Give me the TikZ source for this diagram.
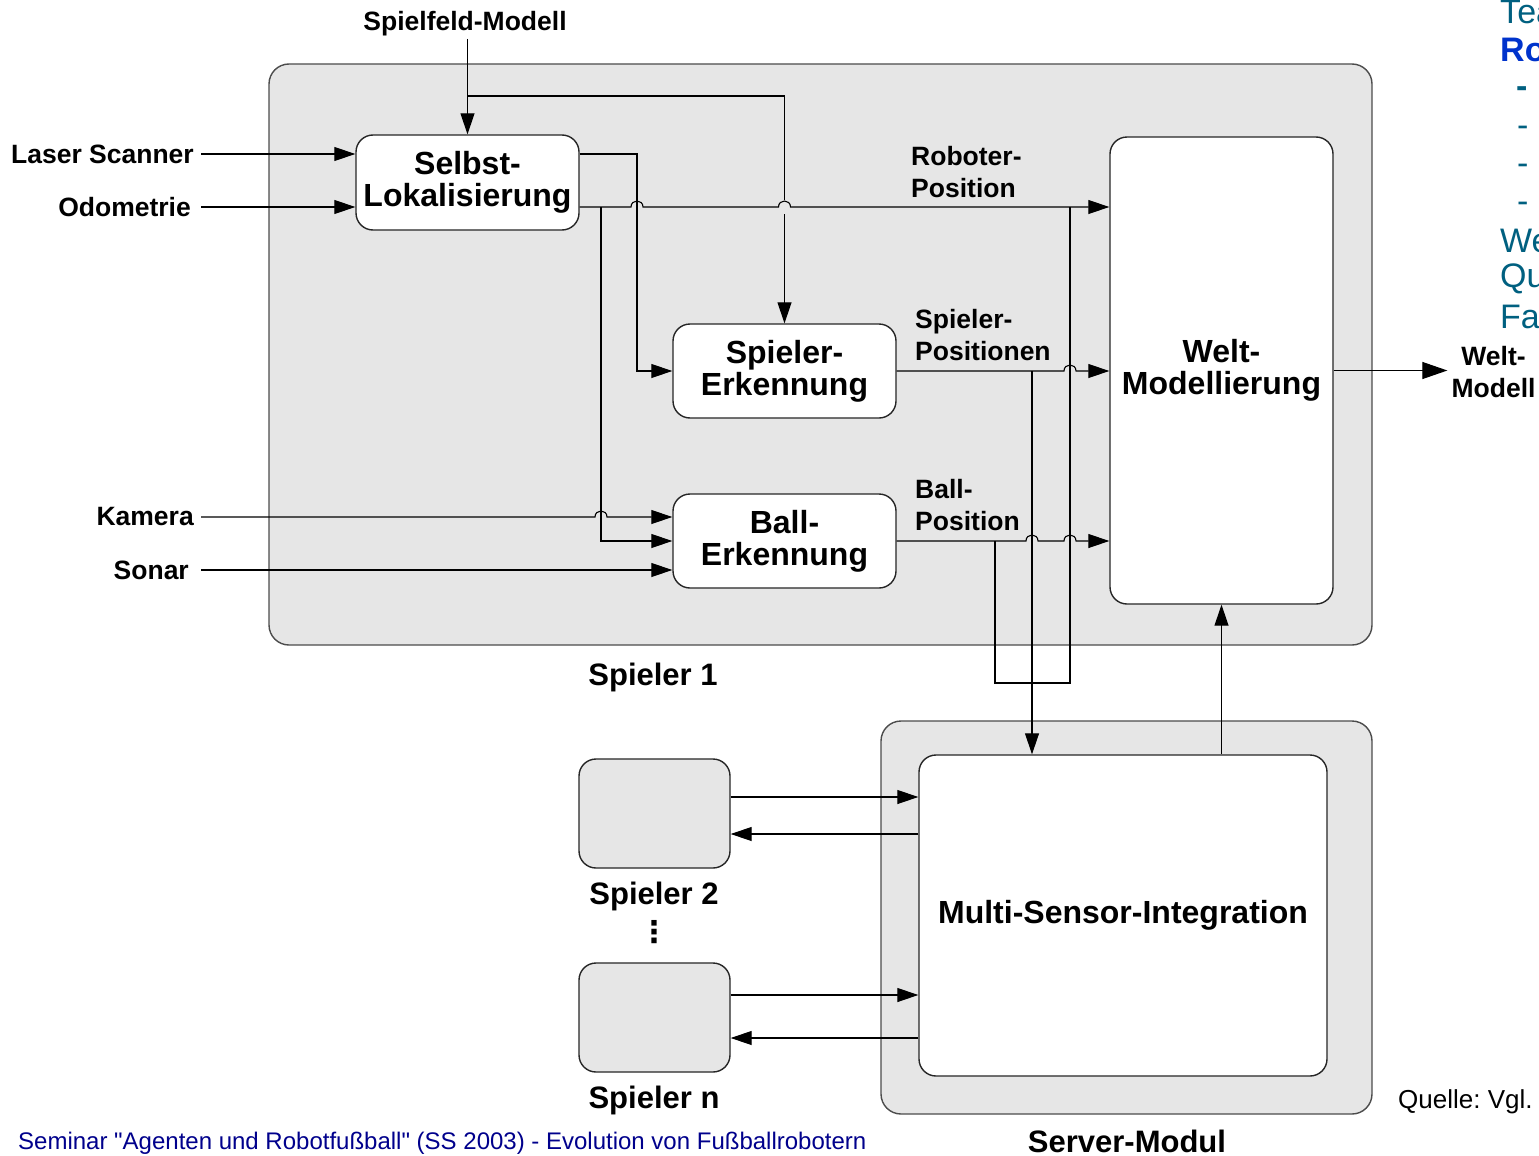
\documentclass[tikz,border=0pt]{standalone}
\usepackage{fontspec}
\setmainfont{Liberation Sans}
\newfontfamily\dejavu{DejaVu Sans}
\usetikzlibrary{arrows.meta,calc}
\definecolor{grp}{RGB}{230,230,230}
\definecolor{teal}{RGB}{0,96,128}
\definecolor{rblue}{RGB}{0,51,204}
\definecolor{navy}{RGB}{0,0,140}
\frenchspacing
\begin{document}
\begin{tikzpicture}[x=1pt,y=-1pt,
  grpbox/.style={draw=black!70, line width=1.4pt, fill=grp, rounded corners=20pt},
  box/.style={draw=black!85, line width=1.4pt, fill=white, rounded corners=17pt, inner sep=0pt, align=center, font=\bfseries\fontsize{32}{32}\selectfont},
  gbox/.style={draw=black!85, line width=1.4pt, fill=grp, rounded corners=17pt, inner sep=0pt},
  lbl/.style={font=\bfseries\fontsize{26.5}{32}\selectfont, inner sep=3pt},
  big/.style={font=\bfseries\fontsize{31}{32}\selectfont, inner sep=0pt},
  side/.style={font=\fontsize{34}{38}\selectfont, text=teal, inner sep=0pt, anchor=west},
  conn/.style={line width=1.1pt, draw=black},
  arr/.style={conn, -{Triangle[length=21pt,width=14pt]}},
  bigarr/.style={conn, -{Triangle[length=25pt,width=17pt]}}
]
\useasboundingbox (0,0) rectangle (1539,1156);
\fill[white] (0,0) rectangle (1539,1156);

% group boxes
\node[grpbox, minimum width=1103pt, minimum height=581pt, inner sep=0pt] (g1) at (820.5,354.5) {};
\node[grpbox, minimum width=491pt, minimum height=393pt, inner sep=0pt] (srv) at (1126.5,917.5) {};

% main boxes
\node[box, minimum width=223pt, minimum height=95pt] (sl) at (467.5,182.5) {Selbst-\\Lokalisierung};
\node[box, minimum width=223pt, minimum height=94pt] (se) at (784.5,371) {Spieler-\\Erkennung};
\node[box, minimum width=223pt, minimum height=94pt] (be) at (784.5,541) {Ball-\\Erkennung};
\node[box, minimum width=223pt, minimum height=467pt] (wm) at (1221.5,370.5) {Welt-\\Modellierung};
\node[box, minimum width=408pt, minimum height=321pt] (msi) at (1123,915.5) {Multi-Sensor-Integration};
\node[gbox, minimum width=151pt, minimum height=109pt] (sp2) at (654.5,813.5) {};
\node[gbox, minimum width=151pt, minimum height=109pt] (spn) at (654.5,1017.5) {};

% input labels
\node[lbl, anchor=east, inner xsep=7pt] (laser) at (201,154) {Laser Scanner};
\node[lbl, anchor=east, inner xsep=10pt] (odo) at (201,207) {Odometrie};
\node[lbl, anchor=east, inner xsep=7pt] (kamera) at (201,517) {Kamera};
\node[lbl, anchor=east, inner xsep=12pt] (sonar) at (201,570) {Sonar};
\node[lbl, anchor=south] (sfm) at (465,39) {Spielfeld-Modell};

% line labels
\node[lbl, anchor=west, align=left] (rp) at (908,172) {Roboter-\\Position};
\node[lbl, anchor=west, align=left] (spp) at (912,335) {Spieler-\\Positionen};
\node[lbl, anchor=west, align=left] (bp) at (912,505) {Ball-\\Position};
\node[lbl, align=center, inner sep=4pt] (wmodel) at (1493.5,372) {Welt-\\Modell};

% group labels
\node[big] (l1) at (653,677) {Spieler 1};
\node[big] (l2) at (654,896) {Spieler 2};
\node[font=\dejavu\bfseries\fontsize{30}{30}\selectfont, inner sep=0pt] (ldots) at (654,932) {⋮};
\node[big] (ln) at (654,1100) {Spieler n};
\node[big] (lsrv) at (1127,1141) {Server-Modul};

% connectors
\draw[arr] (sl.north |- sfm.south) -- (sl.north);
\coordinate (b1) at (467.5,96);
\draw[conn] (b1) -| (784.5,200);
\draw[arr] (784.5,214) -- (se.north);
\draw[arr] (laser.east) -- (laser.east -| sl.west);
\draw[arr] (odo.east) -- (odo.east -| sl.west);
\draw[arr] (sl.east |- laser.east) -| (637,371) -- (se.west);
\draw[arr] (sl.east |- odo.east) -- (631,207) .. controls (631,199) and (643,199) .. (643,207)
  -- (778.5,207) .. controls (778.5,199) and (790.5,199) .. (790.5,207) -- (odo.east -| wm.west);
\draw[arr] (601,207) |- (be.west);
\draw[arr] (kamera.east) -- (595,517) .. controls (595,509) and (607,509) .. (607,517) -- (kamera.east -| be.west);
\draw[arr] (sonar.east) -- (sonar.east -| be.west);
\draw[arr] (se.east) -- (1064,371) .. controls (1064,363) and (1076,363) .. (1076,371) -- (se.east -| wm.west);
\draw[arr] (be.east) -- (1026,541) .. controls (1026,533) and (1038,533) .. (1038,541)
  -- (1064,541) .. controls (1064,533) and (1076,533) .. (1076,541) -- (be.east -| wm.west);
\coordinate (d1) at (1032,371);
\draw[arr] (d1) -- (d1 |- msi.north);
\draw[conn] (1070,207) -- (1070,683) -| (995,541);
\draw[arr] (wm.south |- msi.north) -- (wm.south);
\draw[bigarr] (wm.east) -- (wm.east -| wmodel.west);
\draw[arr] ([yshift=16.5pt]sp2.east) -- ([yshift=16.5pt]sp2.east -| msi.west);
\draw[arr] ([yshift=-20.5pt]sp2.east -| msi.west) -- ([yshift=-20.5pt]sp2.east);
\draw[arr] ([yshift=22.5pt]spn.east) -- ([yshift=22.5pt]spn.east -| msi.west);
\draw[arr] ([yshift=-20.5pt]spn.east -| msi.west) -- ([yshift=-20.5pt]spn.east);

% footer and source
\node[anchor=west, inner sep=0pt, text=navy, font=\fontsize{24}{26}\selectfont] (foot) at (18,1143) {Seminar \textquotedbl Agenten und Robotfußball\textquotedbl{} (SS 2003) - Evolution von Fußballrobotern};
\node[anchor=west, inner sep=0pt, font=\fontsize{26}{28}\selectfont] (quelle) at (1398,1102) {Quelle: Vgl.};

% cut-off slide text at right edge
\begin{scope}
\clip (0,0) rectangle (1539,1156);
\node[side] (t1) at (1500,12) {Tea};
\node[side, text=rblue, font=\bfseries\fontsize{34}{38}\selectfont] (t2) at (1500,50) {Ro};
\node[side, font=\bfseries\fontsize{34}{38}\selectfont] (t3) at (1516,92) {-};
\node[side] (t4) at (1517,131) {-};
\node[side] (t5) at (1517,169) {-};
\node[side] (t6) at (1517,207) {-};
\node[side] (t7) at (1500,241) {We};
\node[side] (t8) at (1500,279) {Qu};
\node[side] (t9) at (1500,317) {Fa};
\end{scope}
\end{tikzpicture}
\end{document}
